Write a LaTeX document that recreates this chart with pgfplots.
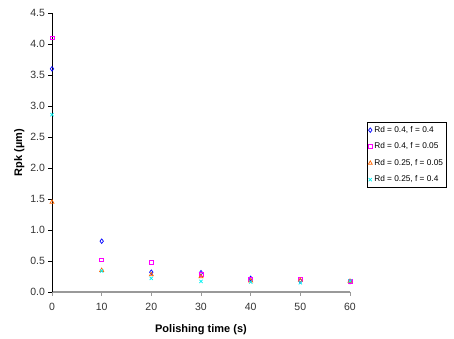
\documentclass[border=0pt]{standalone}
\usepackage{pgfplots}
\pgfplotsset{compat=1.18}
\usepackage{fontspec}
\setmainfont{Liberation Sans}
\definecolor{sblue}{RGB}{0,0,255}
\definecolor{smag}{RGB}{255,0,255}
\definecolor{sorange}{RGB}{255,102,0}
\definecolor{scyan}{RGB}{0,240,240}
\begin{document}
\begin{tikzpicture}
\begin{axis}[
  name=ax,
  scale only axis,
  width=298pt, height=279pt,
  xmin=0, xmax=60, ymin=0, ymax=4.5,
  axis lines=left,
  axis line style={-},
  x axis line style={draw=gray!80, line width=1.3pt},
  y axis line style={draw=black, line width=0.7pt},
  xtick={0,10,...,60},
  ytick={0,0.5,...,4.5},
  tick align=outside,
  major tick length=3.5pt,
  xtick style={gray!80, line width=0.8pt},
  ytick style={black, line width=0.6pt},
  yticklabel style={/pgf/number format/.cd, fixed, fixed zerofill, precision=1},
  /pgf/number format/assume math mode=true,
  tick label style={font=\fontsize{10.5}{12}\selectfont, color=black!80},
  xticklabel style={yshift=-4pt},
  xlabel={\textbf{Polishing time (s)}},
  ylabel={\textbf{Rpk (µm)}},
  label style={font=\fontsize{11}{12}\selectfont},
  xlabel style={yshift=-7pt},
  ylabel style={yshift=-1pt},
  clip=false,
  legend style={at={(1.057,0.609)}, anchor=north west, draw=black, line width=0.6pt,
    font=\fontsize{8.3}{9}\selectfont, row sep=5pt, inner xsep=1pt, inner ysep=2pt,
    cells={anchor=west}},
  legend cell align=left,
]
\addplot[only marks, mark=diamond, mark size=2.3pt, draw=sblue, mark options={draw=sblue, line width=0.7pt}] coordinates {
(0,3.6) (10,0.82) (20,0.32) (30,0.31) (40,0.22) (50,0.18) (60,0.17)};
\addlegendentry{Rd = 0.4, f = 0.4}
\addplot[only marks, mark=square, mark size=1.9pt, draw=smag, mark options={draw=smag, line width=0.7pt}] coordinates {
(0,4.1) (10,0.52) (20,0.48) (30,0.29) (40,0.20) (50,0.21) (60,0.17)};
\addlegendentry{Rd = 0.4, f = 0.05}
\addplot[only marks, mark=triangle, mark size=2.3pt, draw=sorange, mark options={draw=sorange, line width=0.7pt}] coordinates {
(0,1.45) (10,0.35) (20,0.28) (30,0.25) (40,0.18) (50,0.19) (60,0.17)};
\addlegendentry{Rd = 0.25, f = 0.05}
\addplot[only marks, mark=x, mark size=2.3pt, draw=scyan, mark options={draw=scyan, line width=0.7pt}] coordinates {
(0,2.86) (10,0.34) (20,0.22) (30,0.17) (40,0.16) (50,0.15) (60,0.18)};
\addlegendentry{Rd = 0.25, f = 0.4}
\end{axis}
\path ([shift={(-52pt,-46pt)}]ax.south west) rectangle ([shift={(402pt,292pt)}]ax.south west);
\end{tikzpicture}
\end{document}
